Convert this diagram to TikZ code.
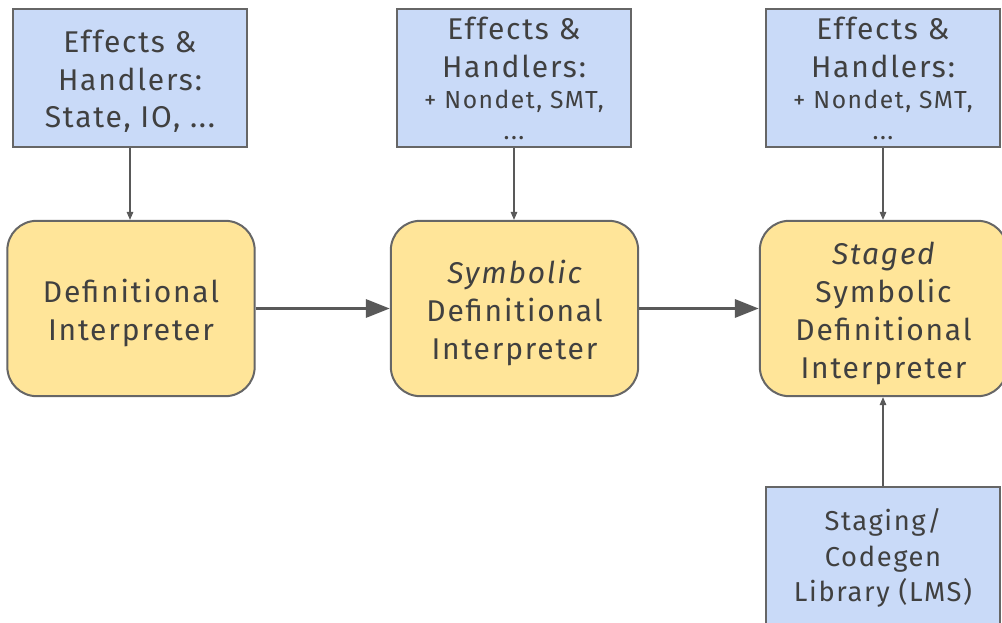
\documentclass[tikz,border=0pt]{standalone}
\usepackage{fontspec}
\setmainfont{Fira Sans}[LetterSpace=6]
\usetikzlibrary{arrows.meta}
\definecolor{handlerblue}{HTML}{C9DAF8}
\definecolor{interpyellow}{HTML}{FFE599}
\definecolor{edgegrey}{HTML}{666666}
\definecolor{inkgrey}{HTML}{404040}
\definecolor{arrowgrey}{HTML}{595959}
\begin{document}
\begin{tikzpicture}[x=0.75pt,y=-0.75pt,
  handlerbox/.style={draw=edgegrey,line width=1.5pt,fill=handlerblue,
    minimum width=175.5pt,minimum height=103.5pt,inner sep=0pt},
  interpbox/.style={draw=edgegrey,line width=1.5pt,fill=interpyellow,rounded corners=22pt,
    minimum width=185.5pt,minimum height=131.5pt,inner sep=0pt},
  bigtxt/.style={text=inkgrey,font=\fontsize{22.5}{28.5}\selectfont,inner sep=0pt,anchor=base},
  smalltxt/.style={text=inkgrey,font=\fontsize{18.5}{22}\selectfont,inner sep=0pt,anchor=base},
  midtxt/.style={text=inkgrey,font=\fontsize{20.5}{26}\selectfont,inner sep=0pt,anchor=base},
  feed/.style={draw=arrowgrey,line width=0.8pt,-{Triangle[length=6pt,width=5pt]}},
  flow/.style={draw=arrowgrey,line width=2.4pt,-{Triangle[length=18pt,width=13.5pt]}}]
\useasboundingbox (0,0) rectangle (1002,623);

% effect handler boxes
\node[handlerbox] (h1) at (130,78) {};
\node[handlerbox] (h2) at (514,78) {};
\node[handlerbox] (h3) at (883,78) {};
\node[handlerbox,minimum height=150pt] (lms) at (883,587) {};

% interpreter boxes
\node[interpbox] (i1) at (131,308.5) {};
\node[interpbox] (i2) at (514.5,308.5) {};
\node[interpbox] (i3) at (883.5,308.5) {};

% labels of the handler boxes
\node[bigtxt] (h1a) at (130,52.5) {Effects \&};
\node[bigtxt] (h1b) at (130,90.5) {Handlers:};
\node[bigtxt] (h1c) at (130,128) {State, IO, ...};

\node[bigtxt] (h2a) at (514,40) {Effects \&};
\node[bigtxt] (h2b) at (514,78) {Handlers:};
\node[smalltxt] (h2c) at (514,108.5) {+ Nondet, SMT,};
\node[smalltxt] (h2d) at (514,140) {...};

\node[bigtxt] (h3a) at (883,40) {Effects \&};
\node[bigtxt] (h3b) at (883,78) {Handlers:};
\node[smalltxt] (h3c) at (883,108.5) {+ Nondet, SMT,};
\node[smalltxt] (h3d) at (883,140) {...};

\node[midtxt] (l1) at (883,530) {Staging/};
\node[midtxt] (l2) at (883,566) {Codegen};
\node[midtxt] (l3) at (883,601) {Library (LMS)};

% labels of the interpreters
\node[bigtxt] (i1a) at (131,302.5) {Definitional};
\node[bigtxt] (i1b) at (131,340) {Interpreter};

\node[bigtxt] (i2a) at (514.5,283.5) {\itshape Symbolic};
\node[bigtxt] (i2b) at (514.5,321.5) {Definitional};
\node[bigtxt] (i2c) at (514.5,359) {Interpreter};

\node[bigtxt] (i3a) at (883.5,264.5) {\itshape Staged};
\node[bigtxt] (i3b) at (883.5,302.5) {Symbolic};
\node[bigtxt] (i3c) at (883.5,340.5) {Definitional};
\node[bigtxt] (i3d) at (883.5,378) {Interpreter};

% connectors
\draw[feed] (h1.south) -- (h1.south |- i1.north);
\draw[feed] (h2.south) -- (h2.south |- i2.north);
\draw[feed] (h3.south) -- (h3.south |- i3.north);
\draw[feed] (lms.north) -- (lms.north |- i3.south);
\draw[flow] (i1.east) -- (i2.west);
\draw[flow] (i2.east) -- (i3.west);
\end{tikzpicture}
\end{document}
